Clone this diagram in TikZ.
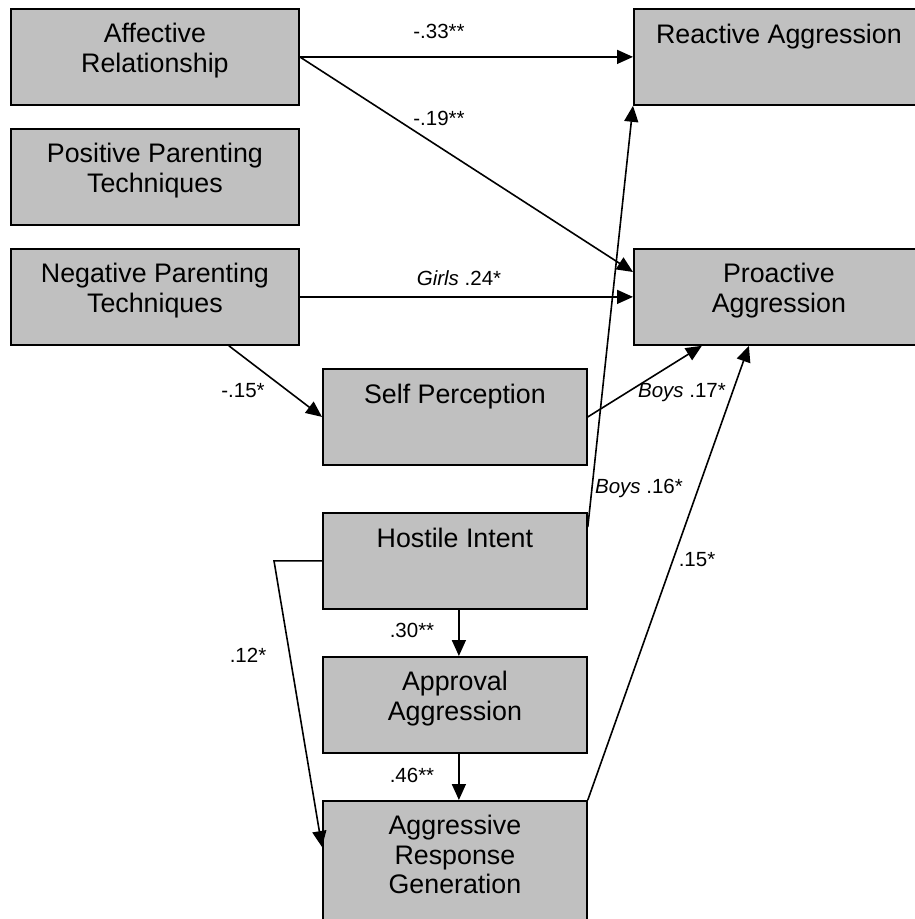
\documentclass[tikz,border=0pt]{standalone}
\usepackage{fontspec}
\setmainfont{Liberation Sans}
\usetikzlibrary{arrows.meta,calc}
\definecolor{boxgray}{RGB}{192,192,192}
\begin{document}
\begin{tikzpicture}[x=1pt,y=-1pt,
  box/.style={draw=black, line width=1.8pt, fill=boxgray, inner sep=0pt, anchor=north west, rectangle},
  boxtext/.style={anchor=north, inner sep=0pt, align=center, font=\fontsize{26.8}{29.5}\selectfont, execute at begin node={\rule{0pt}{20pt}}},
  lab/.style={anchor=base, inner sep=0pt, font=\fontsize{20.5}{24}\selectfont},
  arr/.style={-{Triangle[length=16pt,width=14pt]}, line width=1.6pt}]
\useasboundingbox (0,0) rectangle (915,919);
\clip (0,0) rectangle (915,919);
% boxes
\node[box, minimum width=288pt, minimum height=96pt] (ar) at (10,8) {};
\node[box, minimum width=288pt, minimum height=96pt] (pp) at (10,128) {};
\node[box, minimum width=288pt, minimum height=96pt] (np) at (10,248) {};
\node[box, minimum width=290pt, minimum height=96pt] (ra) at (633,8) {};
\node[box, minimum width=290pt, minimum height=96pt] (pa) at (633,248) {};
\node[box, minimum width=264pt, minimum height=96pt] (sp) at (322,368) {};
\node[box, minimum width=264pt, minimum height=96pt] (hi) at (322,512) {};
\node[box, minimum width=264pt, minimum height=96pt] (aa) at (322,656) {};
\node[box, minimum width=264pt, minimum height=125pt] (arg) at (322,800) {};
% box texts
\node[boxtext] (ar-t) at ([yshift=-15pt]ar.north) {Affective\\Relationship};
\node[boxtext] (pp-t) at ([yshift=-15pt]pp.north) {Positive Parenting\\Techniques};
\node[boxtext] (np-t) at ([yshift=-15pt]np.north) {Negative Parenting\\Techniques};
\node[boxtext] (ra-t) at ([yshift=-15pt]ra.north) {Reactive Aggression};
\node[boxtext] (pa-t) at ([yshift=-15pt]pa.north) {Proactive\\Aggression};
\node[boxtext] (sp-t) at ([yshift=-15pt]sp.north) {Self Perception};
\node[boxtext] (hi-t) at ([yshift=-15pt]hi.north) {Hostile Intent};
\node[boxtext] (aa-t) at ([yshift=-15pt]aa.north) {Approval\\Aggression};
\node[boxtext] (arg-t) at ([yshift=-15pt]arg.north) {Aggressive\\Response\\Generation};
% connectors
\draw[arr] (ar.east) -- (ra.west);
\draw[arr] (ar.east) -- ([yshift=-24pt]pa.north west);
\draw[arr] (np.east) -- (pa.west);
\draw[arr] ([xshift=74pt]np.south) -- (sp.west);
\draw[arr] (sp.east) -- ([xshift=-77pt]pa.south);
\draw[arr] ([yshift=-15pt]hi.north east) -- (ra.south west);
\draw[arr] (arg.north east) -- ([xshift=-30pt]pa.south);
\draw[arr] ([xshift=4pt]hi.south) -- ([xshift=4pt]aa.north);
\draw[arr] ([xshift=4pt]aa.south) -- ([xshift=4pt]arg.north);
\draw[arr] (hi.west) -- ++(-48,0) -- ([yshift=-47pt]arg.north west);
% labels
\node[lab] (l1) at (439,38) {-.33**};
\node[lab] (l2) at (439,125) {-.19**};
\node[lab] (l3) at (459,285) {\textit{Girls} .24*};
\node[lab] (l4) at (243,397) {-.15*};
\node[lab] (l5) at (682,397) {\textit{Boys} .17*};
\node[lab] (l6) at (639,493) {\textit{Boys} .16*};
\node[lab] (l7) at (697,566) {.15*};
\node[lab] (l8) at (412,637) {.30**};
\node[lab] (l9) at (412,782) {.46**};
\node[lab] (l10) at (248,662) {.12*};
\end{tikzpicture}
\end{document}
